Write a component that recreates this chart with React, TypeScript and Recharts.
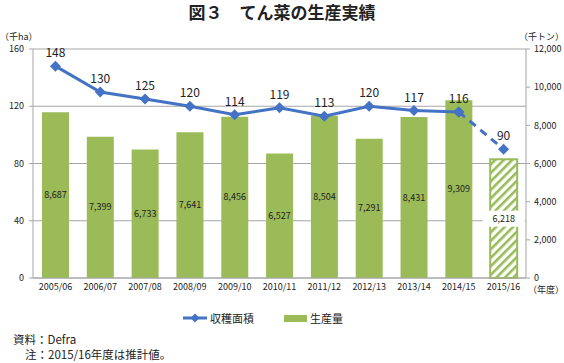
import { ComposedChart, Bar, Line, XAxis, YAxis, CartesianGrid, Cell, LabelList } from 'recharts'

const years = ['2005/06', '2006/07', '2007/08', '2008/09', '2009/10', '2010/11', '2011/12', '2012/13', '2013/14', '2014/15', '2015/16']
const harvestArea = [148, 130, 125, 120, 114, 119, 113, 120, 117, 116, 90]
const production = [8687, 7399, 6733, 7641, 8456, 6527, 8504, 7291, 8431, 9309, 6218]
const leftTicks = [0, 40, 80, 120, 160]
const rightTicks = [0, 2000, 4000, 6000, 8000, 10000, 12000]

const FONT = '"Noto Sans CJK JP", "Noto Sans", sans-serif'
const BLUE = '#4472c4'
const GREEN = '#9bbb59'
const GRAY = '#a6a6a6'
const last = years.length - 1

const data = years.map((y, i) => ({
    year: y,
    areaSolid: i < last ? harvestArea[i] : null,
    areaDash: i >= last - 1 ? harvestArea[i] : null,
    prod: production[i],
}))

const fmt = (v: number) => v.toLocaleString('en-US')

const Diamond = (props: any) => {
    const { cx, cy, value, index } = props
    if (value == null || cx == null) return <g key={index} />
    const r = 5.5
    return <path key={index} d={`M${cx},${cy - r}L${cx + r},${cy}L${cx},${cy + r}L${cx - r},${cy}Z`} fill={BLUE} />
}

const lineLabel = (onlyLast: boolean) => (props: any) => {
    const { x, y, value, index } = props
    if (value == null) return null
    if (onlyLast && index !== last) return null
    return (
        <text key={index} x={x} y={y - 9} textAnchor="middle" fontSize={12} fill="#222" fontFamily={FONT}>
            {value}
        </text>
    )
}

const barLabel = (props: any) => {
    const { x, y, width, height, value, index } = props
    const cx = x + width / 2
    const cy = y + height / 2
    const txt = fmt(value)
    return (
        <g key={index}>
            {index === last && <rect x={cx - 21} y={cy - 8} width={42} height={16} fill="#fff" />}
            <text x={cx} y={cy} dy={3} textAnchor="middle" fontSize={9} fill="#222" fontFamily={FONT}>
                {txt}
            </text>
        </g>
    )
}

export default function App() {
    return (
        <div style={{ position: 'absolute', left: 0, top: 0, width: 564, height: 363, background: '#fff', fontFamily: FONT, color: '#222' }}>
            <div style={{ position: 'absolute', top: 1, left: 0, width: 564, textAlign: 'center', fontSize: 17, fontWeight: 'bold', lineHeight: '22px' }}>
                図３　てん菜の生産実績
            </div>
            <div style={{ position: 'absolute', top: 30, left: 0, fontSize: 9, lineHeight: '14px' }}>（千ha）</div>
            <div style={{ position: 'absolute', top: 30, left: 519, fontSize: 9, lineHeight: '14px' }}>（千トン）</div>
            <div style={{ position: 'absolute', top: 284, left: 528, fontSize: 9, lineHeight: '12px' }}>（年度）</div>

            <div style={{ position: 'absolute', top: 0, left: 0 }}>
                <ComposedChart width={564} height={300} data={data} margin={{ top: 49, right: 0, bottom: 0, left: 0 }}>
                    <defs>
                        <pattern id="hatch" patternUnits="userSpaceOnUse" width="6" height="6" patternTransform="rotate(45)">
                            <rect width="6" height="6" fill="#fff" />
                            <rect width="2.6" height="6" fill={GREEN} />
                        </pattern>
                    </defs>
                    <CartesianGrid yAxisId="left" vertical={false} stroke={GRAY} />
                    <XAxis
                        dataKey="year"
                        height={22}
                        tickLine={false}
                        tickSize={4}
                        tickMargin={2}
                        axisLine={{ stroke: GRAY }}
                        tick={{ fontSize: 9, fill: '#222', fontFamily: FONT }}
                        interval={0}
                    />
                    <YAxis
                        yAxisId="left"
                        width={33}
                        domain={[0, 160]}
                        ticks={leftTicks}
                        tickSize={4}
                        tickMargin={5}
                        axisLine={{ stroke: GRAY }}
                        tickLine={{ stroke: GRAY }}
                        tick={{ fontSize: 9, fill: '#222', fontFamily: FONT }}
                    />
                    <YAxis
                        yAxisId="right"
                        orientation="right"
                        width={38}
                        domain={[0, 12000]}
                        ticks={rightTicks}
                        tickFormatter={fmt}
                        tickSize={4}
                        tickMargin={4}
                        axisLine={{ stroke: GRAY }}
                        tickLine={{ stroke: GRAY }}
                        tick={{ fontSize: 9, fill: '#222', fontFamily: FONT }}
                    />
                    <Bar yAxisId="right" dataKey="prod" barSize={27} fill={GREEN} isAnimationActive={false}>
                        {data.map((d, i) => (
                            <Cell
                                key={d.year}
                                fill={i === last ? 'url(#hatch)' : GREEN}
                                stroke={i === last ? GREEN : 'none'}
                                strokeWidth={i === last ? 2 : 0}
                            />
                        ))}
                        <LabelList dataKey="prod" content={barLabel} />
                    </Bar>
                    <Line
                        yAxisId="left"
                        dataKey="areaDash"
                        stroke={BLUE}
                        strokeWidth={3}
                        strokeDasharray="8 6"
                        dot={Diamond}
                        activeDot={false}
                        isAnimationActive={false}
                    >
                        <LabelList dataKey="areaDash" content={lineLabel(true)} />
                    </Line>
                    <Line
                        yAxisId="left"
                        dataKey="areaSolid"
                        stroke={BLUE}
                        strokeWidth={3}
                        dot={Diamond}
                        activeDot={false}
                        isAnimationActive={false}
                    >
                        <LabelList dataKey="areaSolid" content={lineLabel(false)} />
                    </Line>
                </ComposedChart>
            </div>

            <div style={{ position: 'absolute', top: 310, left: 183, display: 'flex', alignItems: 'center', fontSize: 11, lineHeight: '16px' }}>
                <svg width={24} height={12} style={{ marginRight: 3 }}>
                    <line x1={0} y1={6} x2={24} y2={6} stroke={BLUE} strokeWidth={3} />
                    <path d="M12,1.5L16.5,6L12,10.5L7.5,6Z" fill={BLUE} />
                </svg>
                <span>収穫面積</span>
                <span style={{ display: 'inline-block', width: 23, height: 7, background: GREEN, marginLeft: 30, marginRight: 3 }} />
                <span>生産量</span>
            </div>

            <div style={{ position: 'absolute', top: 332, left: 13, fontSize: 11.5, lineHeight: '15px' }}>資料：Defra</div>
            <div style={{ position: 'absolute', top: 347, left: 25, fontSize: 11.5, lineHeight: '15px' }}>注：2015/16年度は推計値。</div>
        </div>
    )
}
